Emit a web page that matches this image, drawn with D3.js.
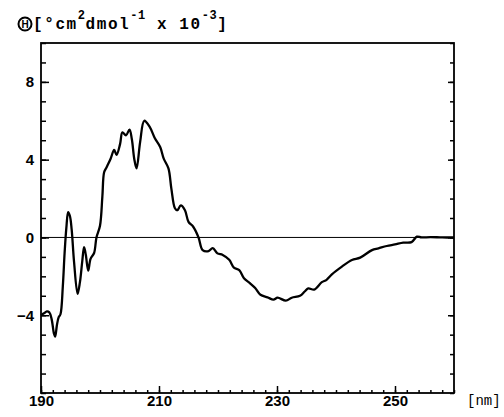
<!DOCTYPE html>
<html lang="en">
<head>
  <meta charset="UTF-8">
  <title>CD spectrum</title>
  <script src="https://d3js.org/d3.v7.min.js"></script>
  <style>
    body { margin: 0; background: #fff; }
    .tick text { font-family: "Liberation Sans", Arial, sans-serif; font-weight: bold; font-size: 15px; fill: #000; }
    .tick line { stroke: #000; stroke-width: 1.5; }
  </style>
</head>
<body>
  <script>

    // wavelength (nm) and mean residue ellipticity (x 10^-3)
    var wavelength = [190.0, 190.5, 191.0, 191.4, 191.8, 192.2, 192.4, 192.7, 193.0, 193.3,
      193.7, 194.0, 194.3, 194.6, 194.9, 195.2, 195.6, 196.2, 196.6, 197.0,
      197.3, 197.6, 198.0, 198.4, 199.0, 199.4, 200.0, 200.4, 200.7, 201.1,
      201.8, 202.4, 202.8, 203.4, 203.8, 204.4, 205.0, 205.4, 205.8, 206.2,
      206.8, 207.5, 208.4, 209.3, 210.2, 210.8, 211.6, 212.1, 212.7, 213.1,
      213.7, 214.4, 215.0, 215.8, 216.7, 217.4, 218.4, 219.1, 219.9, 220.8,
      221.9, 222.7, 223.6, 224.4, 225.4, 226.3, 227.2, 228.4, 229.4, 230.1,
      231.5, 232.5, 233.9, 234.7, 235.3, 236.3, 237.6, 238.4, 239.3, 241.0,
      242.7, 244.1, 246.1, 247.2, 248.6, 250.0, 251.4, 252.8, 253.7, 254.5,
      256.0, 258.0, 260.0];
    var theta = [-4.0, -3.9, -3.8, -3.85, -4.2, -4.95, -5.1, -4.5, -4.1, -3.95,
      -2.5, -0.8, 0.5, 1.3, 1.1, 0.4, -1.25, -2.9, -2.3, -1.2,
      -0.5, -0.9, -1.7, -1.1, -0.8, 0.0, 0.6, 2.1, 3.35, 3.6,
      4.05, 4.5, 4.25, 4.8, 5.4, 5.25, 5.55, 5.05, 4.05, 3.55,
      4.9, 6.0, 5.7, 5.1, 4.65, 4.05, 3.55, 2.5, 1.5, 1.4,
      1.65, 1.4, 0.8, 0.55, 0.0, -0.65, -0.7, -0.55, -0.82, -0.9,
      -1.15, -1.55, -1.68, -2.1, -2.35, -2.6, -2.95, -3.08, -3.2, -3.1,
      -3.25, -3.1, -3.0, -2.78, -2.62, -2.68, -2.3, -2.18, -1.9, -1.5,
      -1.16, -1.04, -0.65, -0.56, -0.44, -0.36, -0.27, -0.24, 0.04, 0.0,
      0.02, 0.0, 0.0];

    var xTickLabels = [190, 210, 230, 250];
    var yTickLabels = [-4, 0, 4, 8];

    var width = 504;
    var height = 417;
    // plot box (note: "top" would clash with window.top)
    var boxLeft = 41, boxRight = 454, boxTop = 43, boxBottom = 393;

    var svg = d3.select("body")
      .append("svg")
        .attr("width", width)
        .attr("height", height);

    var x = d3.scaleLinear().domain([190, 260]).range([boxLeft, boxRight]);
    var y = d3.scaleLinear().domain([-8, 10]).range([boxBottom, boxTop]);

    var noDomain = function(g) { g.select(".domain").remove(); };

    // minor ticks first, then labelled ones on top
    svg.append("g")
        .attr("transform", "translate(" + boxLeft + ",0)")
        .call(d3.axisLeft(y).tickValues(d3.range(-8, 11)).tickSize(-5).tickFormat(""))
        .call(noDomain);
    svg.append("g")
        .attr("transform", "translate(" + boxLeft + ",0)")
        .call(d3.axisLeft(y).tickValues(yTickLabels).tickSize(-8).tickPadding(7)
          .tickFormat(function(d) { return d < 0 ? "\u2212" + Math.abs(d) : d; }))
        .call(noDomain);

    svg.append("g")
        .attr("transform", "translate(" + boxRight + ",0)")
        .call(d3.axisRight(y).tickValues(d3.range(-8, 11)).tickSize(-4).tickFormat(""))
        .call(noDomain);
    svg.append("g")
        .attr("transform", "translate(" + boxRight + ",0)")
        .call(d3.axisRight(y).tickValues(yTickLabels).tickSize(-6).tickFormat(""))
        .call(noDomain);

    svg.append("g")
        .attr("transform", "translate(0," + boxBottom + ")")
        .call(d3.axisBottom(x).tickValues(d3.range(190, 261, 2)).tickSize(-3).tickFormat(""))
        .call(noDomain);
    svg.append("g")
        .attr("transform", "translate(0," + boxBottom + ")")
        .call(d3.axisBottom(x).tickValues(xTickLabels).tickSize(-7).tickPadding(2))
        .call(noDomain);

    // frame
    svg.append("rect")
        .attr("x", boxLeft)
        .attr("y", boxTop)
        .attr("width", boxRight - boxLeft)
        .attr("height", boxBottom - boxTop)
        .attr("fill", "none")
        .attr("stroke", "#000")
        .attr("stroke-width", 1.8);

    // zero line
    svg.append("line")
        .attr("x1", boxLeft)
        .attr("x2", boxRight)
        .attr("y1", y(0))
        .attr("y2", y(0))
        .attr("stroke", "#000")
        .attr("stroke-width", 1);

    var data = wavelength.map(function(w, i) { return [w, theta[i]]; });

    var line = d3.line()
        .x(function(d) { return x(d[0]); })
        .y(function(d) { return y(d[1]); })
        .curve(d3.curveCatmullRom.alpha(0.5));

    svg.append("path")
        .datum(data)
        .attr("d", line)
        .attr("fill", "none")
        .attr("stroke", "#000")
        .attr("stroke-width", 2.3)
        .attr("stroke-linejoin", "round");

    // axis titles: circled theta symbol, then units
    svg.append("circle")
        .attr("cx", 25)
        .attr("cy", 24)
        .attr("r", 6.5)
        .attr("fill", "none")
        .attr("stroke", "#000")
        .attr("stroke-width", 2);
    svg.append("text")
        .attr("x", 25)
        .attr("y", 28)
        .attr("text-anchor", "middle")
        .style("font-family", "'Liberation Sans', Arial, sans-serif")
        .style("font-weight", "bold")
        .style("font-size", "10px")
        .text("H");

    var title = svg.append("text")
        .attr("x", 33)
        .attr("y", 29)
        .style("font-family", "'Liberation Mono', 'Courier New', monospace")
        .style("font-weight", "bold")
        .style("font-size", "16px")
        .style("letter-spacing", "1.6px");
    title.append("tspan").text("[\u00b0cm");
    title.append("tspan").attr("dy", -10).style("font-size", "12px").style("letter-spacing", "0.5px").text("2");
    title.append("tspan").attr("dy", 10).text("dmol");
    title.append("tspan").attr("dy", -10).style("font-size", "12px").style("letter-spacing", "0.5px").text("-1");
    title.append("tspan").attr("dy", 10).text(" x 10");
    title.append("tspan").attr("dy", -10).style("font-size", "12px").style("letter-spacing", "0.5px").text("-3");
    title.append("tspan").attr("dy", 10).text("]");

    svg.append("text")
        .attr("x", 467)
        .attr("y", 405)
        .style("font-family", "'Liberation Mono', 'Courier New', monospace")
        .style("font-size", "14px")
        .text("[nm]");

  </script>
</body>
</html>
